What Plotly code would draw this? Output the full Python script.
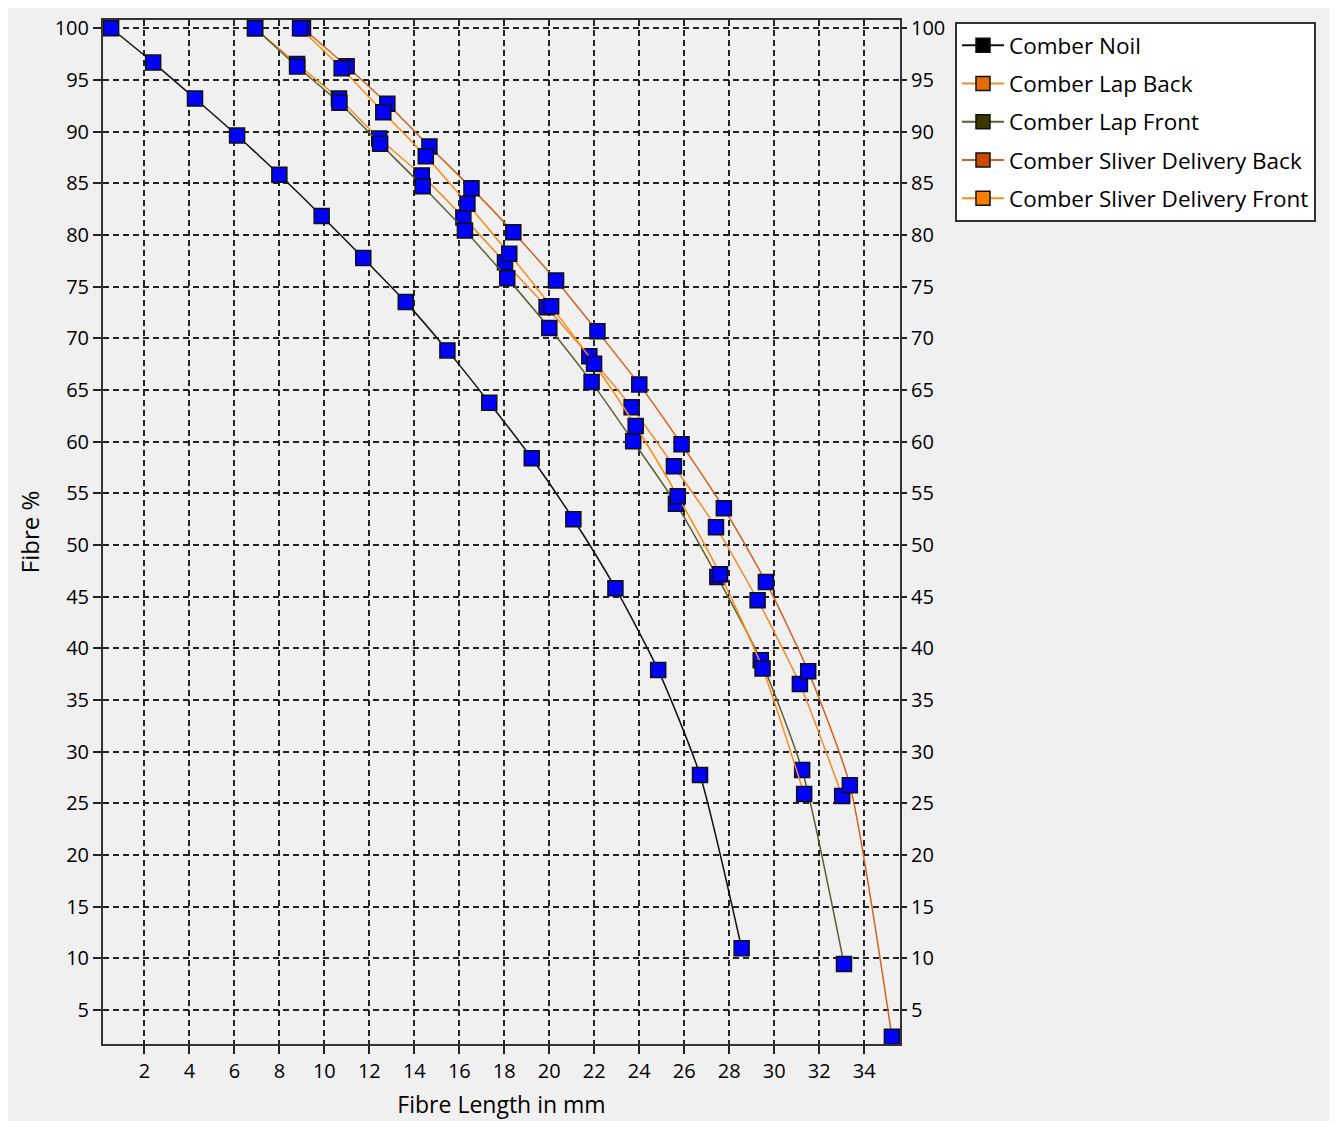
import plotly.graph_objects as go

# ---------------- data ----------------
series_names = ["Comber Noil", "Comber Lap Back", "Comber Lap Front",
                "Comber Sliver Delivery Back", "Comber Sliver Delivery Front"]

noil_x = [0.52, 2.39, 4.25, 6.12, 8.00, 9.88, 11.73, 13.62, 15.47, 17.33, 19.22, 21.07, 22.94, 24.84, 26.70, 28.55]
noil_y = [100.0, 96.68, 93.20, 89.62, 85.82, 81.84, 77.76, 73.50, 68.83, 63.77, 58.39, 52.49, 45.82, 37.89, 27.74, 10.97]

lap_back_x = [6.92, 8.79, 10.65, 12.44, 14.33, 16.18, 18.03, 19.88, 21.78, 23.66, 25.54, 27.41, 29.26, 31.14, 33.02]
lap_back_y = [100.0, 96.54, 93.20, 89.33, 85.76, 81.70, 77.35, 73.00, 68.26, 63.33, 57.62, 51.72, 44.66, 36.54, 25.71]

lap_front_x = [6.92, 8.79, 10.67, 12.48, 14.37, 16.25, 18.13, 20.00, 21.88, 23.73, 25.63, 27.47, 29.40, 31.24, 33.10]
lap_front_y = [100.0, 96.30, 92.79, 88.82, 84.72, 80.44, 75.82, 70.99, 65.76, 60.03, 54.00, 46.91, 38.85, 28.22, 9.45]

sliver_back_x = [9.05, 10.99, 12.80, 14.67, 16.54, 18.40, 20.30, 22.14, 24.00, 25.88, 27.76, 29.63, 31.51, 33.36, 35.23]
sliver_back_y = [100.0, 96.32, 92.69, 88.56, 84.53, 80.27, 75.60, 70.67, 65.54, 59.74, 53.55, 46.42, 37.78, 26.76, 2.42]

sliver_front_x = [8.92, 10.77, 12.62, 14.51, 16.36, 18.22, 20.08, 21.99, 23.84, 25.71, 27.59, 29.48, 31.33]
sliver_front_y = [100.0, 96.13, 91.88, 87.62, 83.02, 78.18, 73.09, 67.54, 61.51, 54.71, 47.17, 38.05, 25.89]

x_ticks = list(range(2, 35, 2))
y_ticks = list(range(5, 101, 5))

# ---------------- style ----------------
line_colors = ["#111111", "#F08A2A", "#5E5E30", "#D2601E", "#FF8A10"]
legend_marker_colors = ["#000000", "#E36C09", "#383800", "#C94A00", "#F77F00"]
FONT = "Open Sans, Noto Sans, DejaVu Sans"
BG = "#F0F0F0"

xs = [noil_x, lap_back_x, lap_front_x, sliver_back_x, sliver_front_x]
ys = [noil_y, lap_back_y, lap_front_y, sliver_back_y, sliver_front_y]

fig = go.Figure()

# legend-only entries (series-coloured swatches)
for i, name in enumerate(series_names):
    fig.add_trace(go.Scatter(
        x=[None], y=[None], mode="lines+markers", name=name,
        legendgroup=name,
        line=dict(color=line_colors[i], width=2),
        marker=dict(symbol="square", size=14, color=legend_marker_colors[i],
                    line=dict(color="#111111", width=1.5)),
        hoverinfo="skip"))

# data traces
for i, name in enumerate(series_names):
    fig.add_trace(go.Scatter(
        x=xs[i], y=ys[i], mode="lines+markers", name=name,
        legendgroup=name, showlegend=False,
        line=dict(color=line_colors[i], width=1.5, shape="spline", smoothing=0.6),
        marker=dict(symbol="square", size=15, color="#0000FF",
                    line=dict(color="#111111", width=1.5))))

# helper trace for right-hand y axis
fig.add_trace(go.Scatter(x=[None], y=[None], yaxis="y2", showlegend=False,
                         hoverinfo="skip"))

xr = [0.16, 35.59]
yr = [1.71, 100.8]

fig.update_layout(
    width=1329, height=1113,
    paper_bgcolor=BG, plot_bgcolor=BG,
    margin=dict(l=95, r=437, t=12, b=77),
    font=dict(family=FONT, size=20, color="#000000"),
    showlegend=True,
    legend=dict(x=1.069, y=0.998, xanchor="left", yanchor="top",
                bgcolor="#FFFFFF", bordercolor="#333333", borderwidth=2,
                font=dict(family=FONT, size=22.5, color="#000000"),
                itemwidth=42,
                traceorder="grouped", tracegroupgap=6),
    xaxis=dict(range=xr, tickmode="array", tickvals=x_ticks,
               ticktext=[str(v) for v in x_ticks], automargin=False,
               showgrid=True, gridcolor="#222222", gridwidth=2,
               griddash="6px,4px", zeroline=False,
               showline=True, linecolor="#333333", linewidth=2, mirror=True,
               ticks="outside", ticklen=8, tickwidth=1.5, tickcolor="#222222",
               tickfont=dict(size=20),
               title=dict(text="Fibre Length in mm", font=dict(size=23), standoff=14)),
    yaxis=dict(range=yr, tickmode="array", tickvals=y_ticks,
               ticktext=[str(v) for v in y_ticks], automargin=False,
               showgrid=True, gridcolor="#222222", gridwidth=2,
               griddash="6px,4px", zeroline=False,
               showline=True, linecolor="#333333", linewidth=2,
               ticks="outside", ticklen=8, tickwidth=1.5, tickcolor="#222222",
               tickfont=dict(size=20),
               title=dict(text="Fibre %", font=dict(size=24), standoff=8)),
    yaxis2=dict(range=yr, overlaying="y", side="right", tickmode="array",
                tickvals=y_ticks, ticktext=[str(v) for v in y_ticks],
                automargin=False,
                showgrid=False, zeroline=False,
                showline=True, linecolor="#333333", linewidth=2,
                ticks="outside", ticklen=5, tickwidth=1.5, tickcolor="#222222",
                tickfont=dict(size=20)),
)

fig.write_html("out.html")
